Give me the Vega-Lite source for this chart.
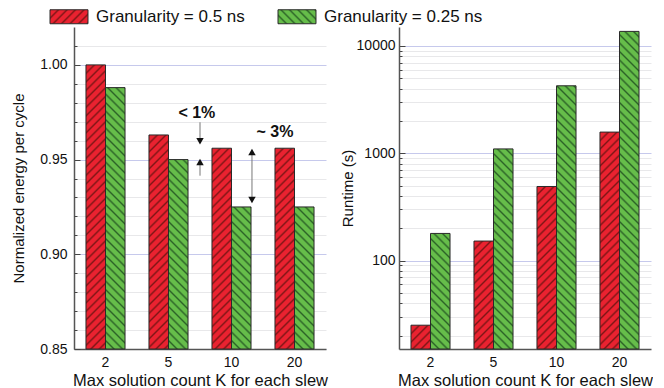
{
  "$schema": "https://vega.github.io/schema/vega-lite/v6.json",
  "padding": {"left": 11, "top": 8, "right": 0, "bottom": 0},
  "background": "white",
  "params": [
    {"name": "hr", "value": [
      {"offset":0,"color":"#7e1616"},{"offset":0.006,"color":"#ea2230"},{"offset":0.019,"color":"#ea2230"},
      {"offset":0.025,"color":"#7e1616"},{"offset":0.031,"color":"#ea2230"},{"offset":0.044,"color":"#ea2230"},
      {"offset":0.05,"color":"#7e1616"},{"offset":0.056,"color":"#ea2230"},{"offset":0.069,"color":"#ea2230"},
      {"offset":0.075,"color":"#7e1616"},{"offset":0.081,"color":"#ea2230"},{"offset":0.094,"color":"#ea2230"},
      {"offset":0.1,"color":"#7e1616"},{"offset":0.106,"color":"#ea2230"},{"offset":0.119,"color":"#ea2230"},
      {"offset":0.125,"color":"#7e1616"},{"offset":0.131,"color":"#ea2230"},{"offset":0.144,"color":"#ea2230"},
      {"offset":0.15,"color":"#7e1616"},{"offset":0.156,"color":"#ea2230"},{"offset":0.169,"color":"#ea2230"},
      {"offset":0.175,"color":"#7e1616"},{"offset":0.181,"color":"#ea2230"},{"offset":0.194,"color":"#ea2230"},
      {"offset":0.2,"color":"#7e1616"},{"offset":0.206,"color":"#ea2230"},{"offset":0.219,"color":"#ea2230"},
      {"offset":0.225,"color":"#7e1616"},{"offset":0.231,"color":"#ea2230"},{"offset":0.244,"color":"#ea2230"},
      {"offset":0.25,"color":"#7e1616"},{"offset":0.256,"color":"#ea2230"},{"offset":0.269,"color":"#ea2230"},
      {"offset":0.275,"color":"#7e1616"},{"offset":0.281,"color":"#ea2230"},{"offset":0.294,"color":"#ea2230"},
      {"offset":0.3,"color":"#7e1616"},{"offset":0.306,"color":"#ea2230"},{"offset":0.319,"color":"#ea2230"},
      {"offset":0.325,"color":"#7e1616"},{"offset":0.331,"color":"#ea2230"},{"offset":0.344,"color":"#ea2230"},
      {"offset":0.35,"color":"#7e1616"},{"offset":0.356,"color":"#ea2230"},{"offset":0.369,"color":"#ea2230"},
      {"offset":0.375,"color":"#7e1616"},{"offset":0.381,"color":"#ea2230"},{"offset":0.394,"color":"#ea2230"},
      {"offset":0.4,"color":"#7e1616"},{"offset":0.406,"color":"#ea2230"},{"offset":0.419,"color":"#ea2230"},
      {"offset":0.425,"color":"#7e1616"},{"offset":0.431,"color":"#ea2230"},{"offset":0.444,"color":"#ea2230"},
      {"offset":0.45,"color":"#7e1616"},{"offset":0.456,"color":"#ea2230"},{"offset":0.469,"color":"#ea2230"},
      {"offset":0.475,"color":"#7e1616"},{"offset":0.481,"color":"#ea2230"},{"offset":0.494,"color":"#ea2230"},
      {"offset":0.5,"color":"#7e1616"},{"offset":0.506,"color":"#ea2230"},{"offset":0.519,"color":"#ea2230"},
      {"offset":0.525,"color":"#7e1616"},{"offset":0.531,"color":"#ea2230"},{"offset":0.544,"color":"#ea2230"},
      {"offset":0.55,"color":"#7e1616"},{"offset":0.556,"color":"#ea2230"},{"offset":0.569,"color":"#ea2230"},
      {"offset":0.575,"color":"#7e1616"},{"offset":0.581,"color":"#ea2230"},{"offset":0.594,"color":"#ea2230"},
      {"offset":0.6,"color":"#7e1616"},{"offset":0.606,"color":"#ea2230"},{"offset":0.619,"color":"#ea2230"},
      {"offset":0.625,"color":"#7e1616"},{"offset":0.631,"color":"#ea2230"},{"offset":0.644,"color":"#ea2230"},
      {"offset":0.65,"color":"#7e1616"},{"offset":0.656,"color":"#ea2230"},{"offset":0.669,"color":"#ea2230"},
      {"offset":0.675,"color":"#7e1616"},{"offset":0.681,"color":"#ea2230"},{"offset":0.694,"color":"#ea2230"},
      {"offset":0.7,"color":"#7e1616"},{"offset":0.706,"color":"#ea2230"},{"offset":0.719,"color":"#ea2230"},
      {"offset":0.725,"color":"#7e1616"},{"offset":0.731,"color":"#ea2230"},{"offset":0.744,"color":"#ea2230"},
      {"offset":0.75,"color":"#7e1616"},{"offset":0.756,"color":"#ea2230"},{"offset":0.769,"color":"#ea2230"},
      {"offset":0.775,"color":"#7e1616"},{"offset":0.781,"color":"#ea2230"},{"offset":0.794,"color":"#ea2230"},
      {"offset":0.8,"color":"#7e1616"},{"offset":0.806,"color":"#ea2230"},{"offset":0.819,"color":"#ea2230"},
      {"offset":0.825,"color":"#7e1616"},{"offset":0.831,"color":"#ea2230"},{"offset":0.844,"color":"#ea2230"},
      {"offset":0.85,"color":"#7e1616"},{"offset":0.856,"color":"#ea2230"},{"offset":0.869,"color":"#ea2230"},
      {"offset":0.875,"color":"#7e1616"},{"offset":0.881,"color":"#ea2230"},{"offset":0.894,"color":"#ea2230"},
      {"offset":0.9,"color":"#7e1616"},{"offset":0.906,"color":"#ea2230"},{"offset":0.919,"color":"#ea2230"},
      {"offset":0.925,"color":"#7e1616"},{"offset":0.931,"color":"#ea2230"},{"offset":0.944,"color":"#ea2230"},
      {"offset":0.95,"color":"#7e1616"},{"offset":0.956,"color":"#ea2230"},{"offset":0.969,"color":"#ea2230"},
      {"offset":0.975,"color":"#7e1616"},{"offset":0.981,"color":"#ea2230"},{"offset":0.994,"color":"#ea2230"},
      {"offset":1,"color":"#7e1616"}
    ]},
    {"name": "hg", "value": [
      {"offset":0,"color":"#2d6428"},{"offset":0.006,"color":"#66bd4a"},{"offset":0.019,"color":"#66bd4a"},
      {"offset":0.025,"color":"#2d6428"},{"offset":0.031,"color":"#66bd4a"},{"offset":0.044,"color":"#66bd4a"},
      {"offset":0.05,"color":"#2d6428"},{"offset":0.056,"color":"#66bd4a"},{"offset":0.069,"color":"#66bd4a"},
      {"offset":0.075,"color":"#2d6428"},{"offset":0.081,"color":"#66bd4a"},{"offset":0.094,"color":"#66bd4a"},
      {"offset":0.1,"color":"#2d6428"},{"offset":0.106,"color":"#66bd4a"},{"offset":0.119,"color":"#66bd4a"},
      {"offset":0.125,"color":"#2d6428"},{"offset":0.131,"color":"#66bd4a"},{"offset":0.144,"color":"#66bd4a"},
      {"offset":0.15,"color":"#2d6428"},{"offset":0.156,"color":"#66bd4a"},{"offset":0.169,"color":"#66bd4a"},
      {"offset":0.175,"color":"#2d6428"},{"offset":0.181,"color":"#66bd4a"},{"offset":0.194,"color":"#66bd4a"},
      {"offset":0.2,"color":"#2d6428"},{"offset":0.206,"color":"#66bd4a"},{"offset":0.219,"color":"#66bd4a"},
      {"offset":0.225,"color":"#2d6428"},{"offset":0.231,"color":"#66bd4a"},{"offset":0.244,"color":"#66bd4a"},
      {"offset":0.25,"color":"#2d6428"},{"offset":0.256,"color":"#66bd4a"},{"offset":0.269,"color":"#66bd4a"},
      {"offset":0.275,"color":"#2d6428"},{"offset":0.281,"color":"#66bd4a"},{"offset":0.294,"color":"#66bd4a"},
      {"offset":0.3,"color":"#2d6428"},{"offset":0.306,"color":"#66bd4a"},{"offset":0.319,"color":"#66bd4a"},
      {"offset":0.325,"color":"#2d6428"},{"offset":0.331,"color":"#66bd4a"},{"offset":0.344,"color":"#66bd4a"},
      {"offset":0.35,"color":"#2d6428"},{"offset":0.356,"color":"#66bd4a"},{"offset":0.369,"color":"#66bd4a"},
      {"offset":0.375,"color":"#2d6428"},{"offset":0.381,"color":"#66bd4a"},{"offset":0.394,"color":"#66bd4a"},
      {"offset":0.4,"color":"#2d6428"},{"offset":0.406,"color":"#66bd4a"},{"offset":0.419,"color":"#66bd4a"},
      {"offset":0.425,"color":"#2d6428"},{"offset":0.431,"color":"#66bd4a"},{"offset":0.444,"color":"#66bd4a"},
      {"offset":0.45,"color":"#2d6428"},{"offset":0.456,"color":"#66bd4a"},{"offset":0.469,"color":"#66bd4a"},
      {"offset":0.475,"color":"#2d6428"},{"offset":0.481,"color":"#66bd4a"},{"offset":0.494,"color":"#66bd4a"},
      {"offset":0.5,"color":"#2d6428"},{"offset":0.506,"color":"#66bd4a"},{"offset":0.519,"color":"#66bd4a"},
      {"offset":0.525,"color":"#2d6428"},{"offset":0.531,"color":"#66bd4a"},{"offset":0.544,"color":"#66bd4a"},
      {"offset":0.55,"color":"#2d6428"},{"offset":0.556,"color":"#66bd4a"},{"offset":0.569,"color":"#66bd4a"},
      {"offset":0.575,"color":"#2d6428"},{"offset":0.581,"color":"#66bd4a"},{"offset":0.594,"color":"#66bd4a"},
      {"offset":0.6,"color":"#2d6428"},{"offset":0.606,"color":"#66bd4a"},{"offset":0.619,"color":"#66bd4a"},
      {"offset":0.625,"color":"#2d6428"},{"offset":0.631,"color":"#66bd4a"},{"offset":0.644,"color":"#66bd4a"},
      {"offset":0.65,"color":"#2d6428"},{"offset":0.656,"color":"#66bd4a"},{"offset":0.669,"color":"#66bd4a"},
      {"offset":0.675,"color":"#2d6428"},{"offset":0.681,"color":"#66bd4a"},{"offset":0.694,"color":"#66bd4a"},
      {"offset":0.7,"color":"#2d6428"},{"offset":0.706,"color":"#66bd4a"},{"offset":0.719,"color":"#66bd4a"},
      {"offset":0.725,"color":"#2d6428"},{"offset":0.731,"color":"#66bd4a"},{"offset":0.744,"color":"#66bd4a"},
      {"offset":0.75,"color":"#2d6428"},{"offset":0.756,"color":"#66bd4a"},{"offset":0.769,"color":"#66bd4a"},
      {"offset":0.775,"color":"#2d6428"},{"offset":0.781,"color":"#66bd4a"},{"offset":0.794,"color":"#66bd4a"},
      {"offset":0.8,"color":"#2d6428"},{"offset":0.806,"color":"#66bd4a"},{"offset":0.819,"color":"#66bd4a"},
      {"offset":0.825,"color":"#2d6428"},{"offset":0.831,"color":"#66bd4a"},{"offset":0.844,"color":"#66bd4a"},
      {"offset":0.85,"color":"#2d6428"},{"offset":0.856,"color":"#66bd4a"},{"offset":0.869,"color":"#66bd4a"},
      {"offset":0.875,"color":"#2d6428"},{"offset":0.881,"color":"#66bd4a"},{"offset":0.894,"color":"#66bd4a"},
      {"offset":0.9,"color":"#2d6428"},{"offset":0.906,"color":"#66bd4a"},{"offset":0.919,"color":"#66bd4a"},
      {"offset":0.925,"color":"#2d6428"},{"offset":0.931,"color":"#66bd4a"},{"offset":0.944,"color":"#66bd4a"},
      {"offset":0.95,"color":"#2d6428"},{"offset":0.956,"color":"#66bd4a"},{"offset":0.969,"color":"#66bd4a"},
      {"offset":0.975,"color":"#2d6428"},{"offset":0.981,"color":"#66bd4a"},{"offset":0.994,"color":"#66bd4a"},
      {"offset":1,"color":"#2d6428"}
    ]}
  ],
  "datasets": {
    "energy": [
      {"K": "2", "g": "Granularity = 0.5 ns", "v": 1.0},
      {"K": "2", "g": "Granularity = 0.25 ns", "v": 0.988},
      {"K": "5", "g": "Granularity = 0.5 ns", "v": 0.963},
      {"K": "5", "g": "Granularity = 0.25 ns", "v": 0.95},
      {"K": "10", "g": "Granularity = 0.5 ns", "v": 0.956},
      {"K": "10", "g": "Granularity = 0.25 ns", "v": 0.925},
      {"K": "20", "g": "Granularity = 0.5 ns", "v": 0.956},
      {"K": "20", "g": "Granularity = 0.25 ns", "v": 0.925}
    ],
    "runtime": [
      {"K": "2", "g": "Granularity = 0.5 ns", "v": 25},
      {"K": "2", "g": "Granularity = 0.25 ns", "v": 179},
      {"K": "5", "g": "Granularity = 0.5 ns", "v": 152},
      {"K": "5", "g": "Granularity = 0.25 ns", "v": 1097},
      {"K": "10", "g": "Granularity = 0.5 ns", "v": 490},
      {"K": "10", "g": "Granularity = 0.25 ns", "v": 4250},
      {"K": "20", "g": "Granularity = 0.5 ns", "v": 1574},
      {"K": "20", "g": "Granularity = 0.25 ns", "v": 13650}
    ],
    "notes": [
      {"x": 1.95, "y": 0.9746, "label": "< 1%"},
      {"x": 3.19, "y": 0.9646, "label": "~ 3%"}
    ],
    "arrows": [
      {"x": 2.0, "y1": 0.9697, "y2": 0.96},
      {"x": 2.0, "y1": 0.9487, "y2": 0.9415},
      {"x": 2.825, "y1": 0.954, "y2": 0.9287}
    ],
    "heads": [
      {"x": 2.0, "y": 0.9597, "dir": "down"},
      {"x": 2.0, "y": 0.9487, "dir": "up"},
      {"x": 2.825, "y": 0.954, "dir": "up"},
      {"x": 2.825, "y": 0.9287, "dir": "down"}
    ]
  },
  "bounds": "flush",
  "spacing": 73,
  "hconcat": [
    {
      "width": 252,
      "height": 322,
      "layer": [
        {
          "data": {"name": "energy"},
          "mark": {
            "type": "bar",
            "strokeWidth": 1,
            "fill": {"expr": "!datum.g ? ((datum.value == 'Granularity = 0.5 ns' || datum.label == 'Granularity = 0.5 ns') ? {gradient: 'linear', x1: 0, y1: 0, x2: 7.878, y2: 2.902, stops: hr} : {gradient: 'linear', x1: 0, y1: 1, x2: 7.878, y2: -1.902, stops: hg}) : datum.g == 'Granularity = 0.5 ns' ? {gradient: 'linear', x1: 0, y1: 0, x2: 6640.2 / (381.42 + pow((datum.v - 0.85) * 1894.1, 2)), y2: 340 * (datum.v - 0.85) * 1894.1 / (381.42 + pow((datum.v - 0.85) * 1894.1, 2)), stops: hr} : {gradient: 'linear', x1: 0, y1: 1, x2: 6640.2 / (381.42 + pow((datum.v - 0.85) * 1894.1, 2)), y2: 1 - 340 * (datum.v - 0.85) * 1894.1 / (381.42 + pow((datum.v - 0.85) * 1894.1, 2)), stops: hg}"}
          },
          "encoding": {
            "x": {
              "field": "K", "type": "ordinal", "sort": ["2", "5", "10", "20"],
              "scale": {"paddingInner": 0.38, "paddingOuter": 0.19},
              "axis": {"title": "Max solution count K for each slew", "labelAngle": 0, "ticks": false, "tickSize": 0, "labelPadding": 6, "labelFontSize": 14, "titleFontSize": 16.5, "titleFontWeight": "normal", "titlePadding": 3, "domainColor": "#555", "domainWidth": 1.5, "labelColor": "#111", "titleColor": "#111"}
            },
            "xOffset": {"field": "g", "type": "nominal", "sort": ["Granularity = 0.5 ns", "Granularity = 0.25 ns"]},
            "y": {
              "field": "v", "type": "quantitative",
              "scale": {"domain": [0.85, 1.02], "zero": false, "nice": false},
              "axis": {
                "orient": "left",
                "title": "Normalized energy per cycle",
                "values": [0.85, 0.9, 0.95, 1.0],
                "format": ".2f",
                "labelOverlap": false,
                "grid": true,
                "gridColor": "#c6c9ec",
                "tickSize": -6,
                "tickColor": "#444",
                "domainColor": "#555", "domainWidth": 1.5,
                "labelFontSize": 14, "labelPadding": 13, "labelColor": "#111",
                "titleFontSize": 15, "titleFontWeight": "normal", "titlePadding": 13, "titleColor": "#111"
              }
            },
            "y2": {"datum": 0.85},
            "stroke": {
              "field": "g", "type": "nominal",
              "scale": {"domain": ["Granularity = 0.5 ns", "Granularity = 0.25 ns"], "range": ["#2a2a2a", "#2a2a2a"]},
              "legend": {
                "orient": "none", "legendX": -13.5, "legendY": -19, "direction": "horizontal",
                "title": null, "padding": 0,
                "symbolType": "M-2.714,-1H2.714V1H-2.714Z", "symbolSize": 196, "symbolStrokeWidth": 1,
                "labelFontSize": 17, "labelColor": "#111", "labelOffset": 18.5, "columnPadding": 30,
                "encode": {"symbols": {"update": {"fill": {"signal": "(datum.value == 'Granularity = 0.5 ns' || datum.label == 'Granularity = 0.5 ns') ? {gradient: 'linear', x1: 0, y1: 0, x2: 7.878, y2: 2.902, stops: hr} : {gradient: 'linear', x1: 0, y1: 1, x2: 7.878, y2: -1.902, stops: hg}"}}}}
              }
            }
          }
        },
        {
          "data": {"name": "arrows"},
          "mark": {"type": "rule", "color": "#777", "strokeWidth": 1},
          "encoding": {
            "x": {"field": "x", "type": "quantitative", "scale": {"domain": [0, 4]}, "axis": null},
            "y": {
              "field": "y1", "type": "quantitative",
              "axis": {
                "orient": "left",
                "values": [0.86, 0.87, 0.88, 0.89, 0.91, 0.92, 0.93, 0.94, 0.96, 0.97, 0.98, 0.99, 1.01],
                "labels": false, "title": null, "domain": false,
                "grid": true, "gridColor": "#e8e8ea",
                "tickSize": -3, "tickColor": "#444"
              }
            },
            "y2": {"field": "y2"}
          }
        },
        {
          "data": {"name": "heads"},
          "mark": {"type": "point", "filled": true, "color": "#111", "size": 55, "opacity": 1},
          "encoding": {
            "x": {"field": "x", "type": "quantitative", "scale": {"domain": [0, 4]}, "axis": null},
            "y": {"field": "y", "type": "quantitative", "axis": null},
            "shape": {"field": "dir", "type": "nominal", "scale": {"domain": ["up", "down"], "range": ["triangle-up", "triangle-down"]}, "legend": null}
          }
        },
        {
          "data": {"name": "notes"},
          "mark": {"type": "text", "fontSize": 16, "fontWeight": "bold", "color": "#111"},
          "encoding": {
            "x": {"field": "x", "type": "quantitative", "scale": {"domain": [0, 4]}, "axis": null},
            "y": {"field": "y", "type": "quantitative", "axis": null},
            "text": {"field": "label"}
          }
        }
      ],
      "resolve": {"scale": {"x": "independent"}, "axis": {"x": "independent", "y": "independent"}}
    },
    {
      "width": 252,
      "height": 322,
      "data": {"name": "runtime"},
      "mark": {
        "type": "bar",
        "strokeWidth": 1,
        "fill": {"expr": "!datum.g ? ((datum.value == 'Granularity = 0.5 ns' || datum.label == 'Granularity = 0.5 ns') ? {gradient: 'linear', x1: 0, y1: 0, x2: 7.878, y2: 2.902, stops: hr} : {gradient: 'linear', x1: 0, y1: 1, x2: 7.878, y2: -1.902, stops: hg}) : datum.g == 'Granularity = 0.5 ns' ? {gradient: 'linear', x1: 0, y1: 0, x2: 6640.2 / (381.42 + pow(log(datum.v / 15) * 46.614, 2)), y2: 340 * log(datum.v / 15) * 46.614 / (381.42 + pow(log(datum.v / 15) * 46.614, 2)), stops: hr} : {gradient: 'linear', x1: 0, y1: 1, x2: 6640.2 / (381.42 + pow(log(datum.v / 15) * 46.614, 2)), y2: 1 - 340 * log(datum.v / 15) * 46.614 / (381.42 + pow(log(datum.v / 15) * 46.614, 2)), stops: hg}"}
      },
      "encoding": {
        "x": {
          "field": "K", "type": "ordinal", "sort": ["2", "5", "10", "20"],
          "scale": {"paddingInner": 0.38, "paddingOuter": 0.19},
          "axis": {"title": "Max solution count K for each slew", "labelAngle": 0, "ticks": false, "tickSize": 0, "labelPadding": 6, "labelFontSize": 14, "titleFontSize": 16.5, "titleFontWeight": "normal", "titlePadding": 3, "domainColor": "#555", "domainWidth": 1.5, "labelColor": "#111", "titleColor": "#111"}
        },
        "xOffset": {"field": "g", "type": "nominal", "sort": ["Granularity = 0.5 ns", "Granularity = 0.25 ns"]},
        "y": {
          "field": "v", "type": "quantitative",
          "scale": {"type": "log", "domain": [15, 15000], "nice": false},
          "axis": {
            "title": "Runtime (s)",
            "values": [20, 30, 40, 50, 60, 70, 80, 90, 100, 200, 300, 400, 500, 600, 700, 800, 900, 1000, 2000, 3000, 4000, 5000, 6000, 7000, 8000, 9000, 10000],
            "labelExpr": "datum.value == 100 || datum.value == 1000 || datum.value == 10000 ? format(datum.value, 'd') : ''",
            "labelOverlap": false,
            "grid": true,
            "gridColor": {"condition": {"test": "datum.value == 100 || datum.value == 1000 || datum.value == 10000", "value": "#c6c9ec"}, "value": "#e8e8ea"},
            "tickSize": {"condition": {"test": "datum.value == 100 || datum.value == 1000 || datum.value == 10000", "value": -6}, "value": -3},
            "tickColor": "#444",
            "domainColor": "#555", "domainWidth": 1.5,
            "labelFontSize": 14, "labelPadding": 10, "labelColor": "#111",
            "titleFontSize": 15, "titleFontWeight": "normal", "titlePadding": 1, "titleColor": "#111"
          }
        },
        "y2": {"datum": 15},
        "stroke": {
          "field": "g", "type": "nominal",
          "scale": {"domain": ["Granularity = 0.5 ns", "Granularity = 0.25 ns"], "range": ["#2a2a2a", "#2a2a2a"]}
        }
      }
    }
  ],
  "config": {
    "font": "Liberation Sans",
    "view": {"stroke": null},
    "axis": {"labelFont": "Liberation Sans", "titleFont": "Liberation Sans"},
    "legend": {"labelFont": "Liberation Sans"}
  }
}
